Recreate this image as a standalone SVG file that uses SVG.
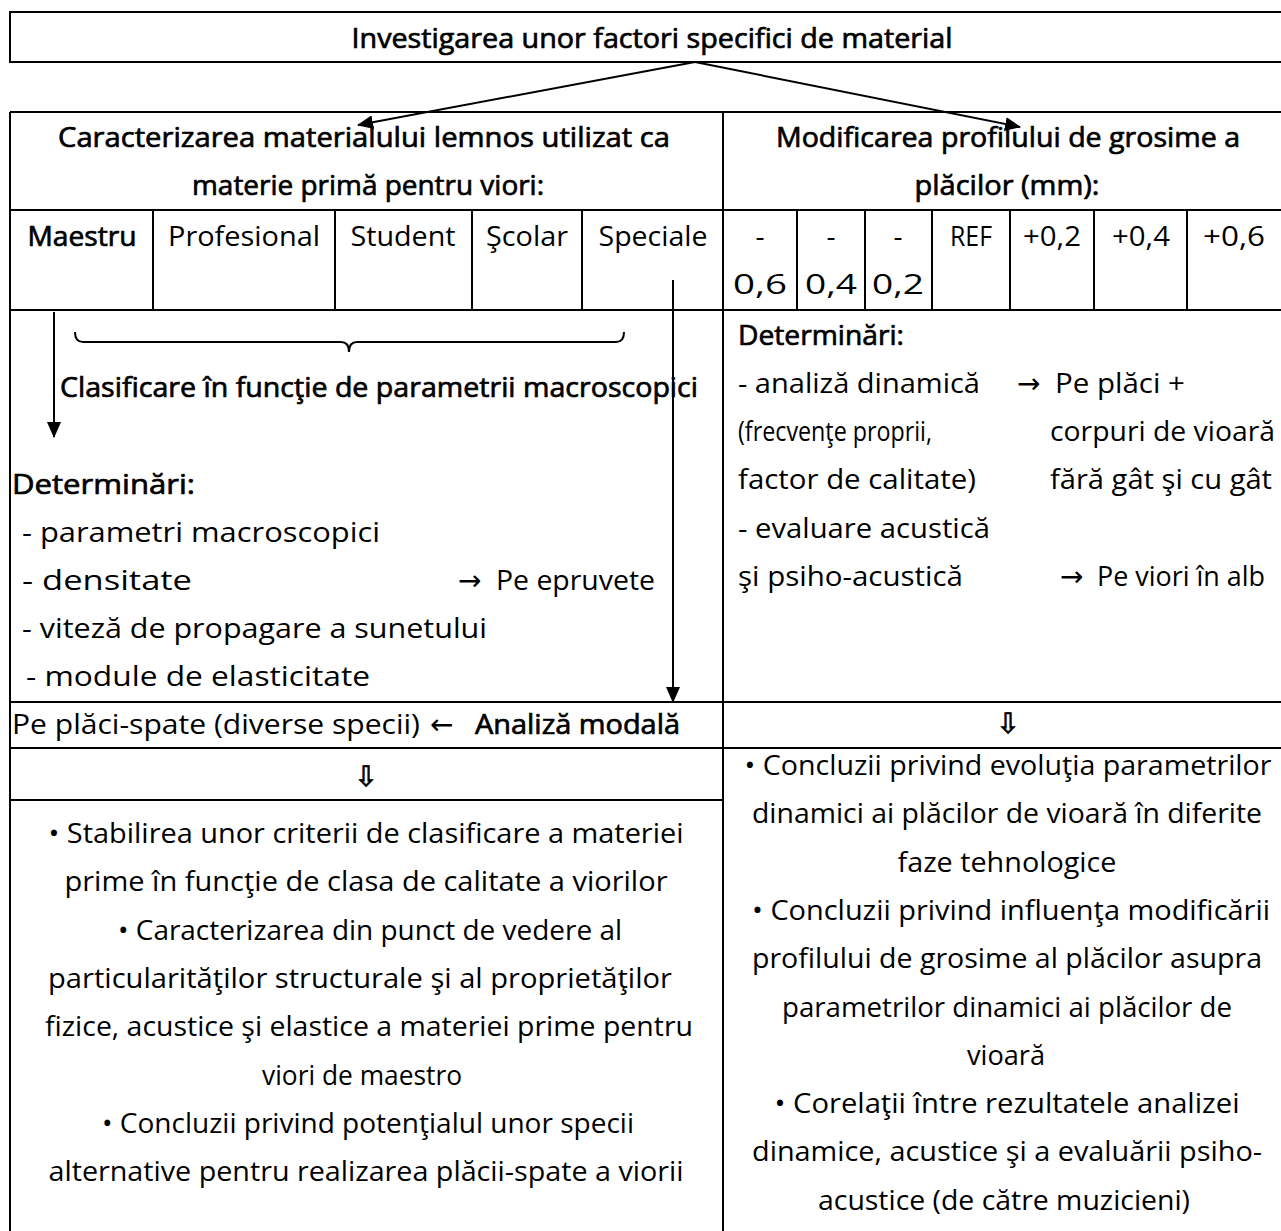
<svg xmlns="http://www.w3.org/2000/svg" width="1281" height="1231" viewBox="0 0 1281 1231">
<style>
text{font-family:"Open Sans","Noto Sans","Liberation Sans",sans-serif;font-size:28px;fill:#000}
.b{stroke:#000;stroke-width:0.7}
.m{text-anchor:middle}
.sym{font-family:"DejaVu Sans",sans-serif}
.dn{stroke:#000;stroke-width:0.8}
.ln{stroke:#000;stroke-width:2;fill:none}
.ar{stroke:#000;stroke-width:2;fill:none}
</style>
<defs>
<marker id="ah" markerUnits="userSpaceOnUse" markerWidth="16" markerHeight="14" refX="15" refY="7" orient="auto">
<path d="M0,0 L16,7 L0,14 z" fill="#000"/>
</marker>
</defs>
<rect width="1281" height="1231" fill="#fff"/>

<g id="title">
<rect class="ln" x="10" y="12" width="1290" height="50"/>
<text class="m b" x="652" y="48" textLength="601" lengthAdjust="spacingAndGlyphs">Investigarea unor factori specifici de material</text>
</g>

<g id="table-grid">
<path class="ln" d="M10,112 H1290 M10,210 H1290 M10,310 H1290 M10,702 H1290 M10,748 H1290 M10,800 H723 M10,112 V1240 M723,112 V1240"/>
<path class="ln" d="M153,210 V310 M335,210 V310 M472,210 V310 M582,210 V310 M797,210 V310 M865,210 V310 M932,210 V310 M1010,210 V310 M1094,210 V310 M1187,210 V310"/>
</g>

<g id="header-left">
<text class="m b" x="364" y="147" textLength="612" lengthAdjust="spacingAndGlyphs">Caracterizarea materialului lemnos utilizat ca</text>
<text class="m b" x="368" y="195" textLength="352" lengthAdjust="spacingAndGlyphs">materie primă pentru viori:</text>
</g>
<g id="header-right">
<text class="m b" x="1008" y="147" textLength="464" lengthAdjust="spacingAndGlyphs">Modificarea profilului de grosime a</text>
<text class="m b" x="1007" y="195" textLength="185" lengthAdjust="spacingAndGlyphs">plăcilor (mm):</text>
</g>

<g id="classes">
<text class="m b" x="82" y="246" textLength="109" lengthAdjust="spacingAndGlyphs">Maestru</text>
<text class="m" x="244" y="246" textLength="152" lengthAdjust="spacingAndGlyphs">Profesional</text>
<text class="m" x="403" y="246" textLength="105" lengthAdjust="spacingAndGlyphs">Student</text>
<text class="m" x="527" y="246" textLength="82" lengthAdjust="spacingAndGlyphs">Şcolar</text>
<text class="m" x="653" y="246" textLength="109" lengthAdjust="spacingAndGlyphs">Speciale</text>
</g>
<g id="thickness">
<text class="m" x="760" y="246">-</text>
<text class="m" x="760" y="294" textLength="54" lengthAdjust="spacingAndGlyphs">0,6</text>
<text class="m" x="831" y="246">-</text>
<text class="m" x="831" y="294" textLength="52" lengthAdjust="spacingAndGlyphs">0,4</text>
<text class="m" x="898" y="246">-</text>
<text class="m" x="898" y="294" textLength="52" lengthAdjust="spacingAndGlyphs">0,2</text>
<text class="m" x="971" y="246" textLength="42" lengthAdjust="spacingAndGlyphs">REF</text>
<text class="m" x="1052" y="246" textLength="58" lengthAdjust="spacingAndGlyphs">+0,2</text>
<text class="m" x="1141" y="246" textLength="58" lengthAdjust="spacingAndGlyphs">+0,4</text>
<text class="m" x="1234" y="246" textLength="62" lengthAdjust="spacingAndGlyphs">+0,6</text>
</g>

<g id="left-determinations">
<path class="ln" d="M75,332 q0,10 8,10 H341 q8,0 8,10 q0,-10 8,-10 H616 q8,0 8,-10" stroke-width="1.5"/>
<text class="b" x="60" y="397" textLength="638" lengthAdjust="spacingAndGlyphs">Clasificare în funcţie de parametrii macroscopici</text>
<text class="b" x="12" y="494" textLength="183" lengthAdjust="spacingAndGlyphs">Determinări:</text>
<text x="22" y="542" textLength="358" lengthAdjust="spacingAndGlyphs">- parametri macroscopici</text>
<text x="22" y="590" textLength="170" lengthAdjust="spacingAndGlyphs">- densitate</text>
<text class="sym" x="458" y="590" font-size="24">→</text>
<text x="496" y="590" textLength="159" lengthAdjust="spacingAndGlyphs">Pe epruvete</text>
<text x="22" y="638" textLength="465" lengthAdjust="spacingAndGlyphs">- viteză de propagare a sunetului</text>
<text x="26" y="686" textLength="344" lengthAdjust="spacingAndGlyphs">- module de elasticitate</text>
</g>

<g id="right-determinations">
<text class="b" x="738" y="345" textLength="166" lengthAdjust="spacingAndGlyphs">Determinări:</text>
<text x="738" y="393" textLength="242" lengthAdjust="spacingAndGlyphs">- analiză dinamică</text>
<text class="sym" x="1017" y="393" font-size="24">→</text>
<text x="1055" y="393" textLength="130" lengthAdjust="spacingAndGlyphs">Pe plăci +</text>
<text x="738" y="441" textLength="194" lengthAdjust="spacingAndGlyphs">(frecvenţe proprii,</text>
<text x="1050" y="441" textLength="225" lengthAdjust="spacingAndGlyphs">corpuri de vioară</text>
<text x="738" y="489" textLength="238" lengthAdjust="spacingAndGlyphs">factor de calitate)</text>
<text x="1050" y="489" textLength="222" lengthAdjust="spacingAndGlyphs">fără gât şi cu gât</text>
<text x="738" y="538" textLength="252" lengthAdjust="spacingAndGlyphs">- evaluare acustică</text>
<text x="738" y="586" textLength="225" lengthAdjust="spacingAndGlyphs">şi psiho-acustică</text>
<text class="sym" x="1060" y="586" font-size="24">→</text>
<text x="1097" y="586" textLength="168" lengthAdjust="spacingAndGlyphs">Pe viori în alb</text>
</g>

<g id="modal-analysis">
<text x="12" y="734" textLength="408" lengthAdjust="spacingAndGlyphs">Pe plăci-spate (diverse specii)</text>
<text class="sym" x="430" y="734" font-size="24">←</text>
<text class="b" x="475" y="734" textLength="205" lengthAdjust="spacingAndGlyphs">Analiză modală</text>
</g>
<g id="down-right"><text class="m sym dn" x="1008" y="733" font-size="34">⇩</text></g>
<g id="down-left"><text class="m sym dn" x="366" y="786" font-size="34">⇩</text></g>

<g id="conclusions-left">
<text class="m" x="366" y="843" textLength="635" lengthAdjust="spacingAndGlyphs">• Stabilirea unor criterii de clasificare a materiei</text>
<text class="m" x="366" y="891" textLength="603" lengthAdjust="spacingAndGlyphs">prime în funcţie de clasa de calitate a viorilor</text>
<text class="m" x="370" y="940" textLength="504" lengthAdjust="spacingAndGlyphs">• Caracterizarea din punct de vedere al</text>
<text class="m" x="360" y="988" textLength="624" lengthAdjust="spacingAndGlyphs">particularităţilor structurale şi al proprietăţilor</text>
<text class="m" x="369" y="1036" textLength="648" lengthAdjust="spacingAndGlyphs">fizice, acustice şi elastice a materiei prime pentru</text>
<text class="m" x="362" y="1085" textLength="200" lengthAdjust="spacingAndGlyphs">viori de maestro</text>
<text class="m" x="368" y="1133" textLength="532" lengthAdjust="spacingAndGlyphs">• Concluzii privind potenţialul unor specii</text>
<text class="m" x="366" y="1181" textLength="635" lengthAdjust="spacingAndGlyphs">alternative pentru realizarea plăcii-spate a viorii</text>
</g>

<g id="conclusions-right">
<text class="m" x="1008" y="775" textLength="527" lengthAdjust="spacingAndGlyphs">• Concluzii privind evoluţia parametrilor</text>
<text class="m" x="1007" y="823" textLength="510" lengthAdjust="spacingAndGlyphs">dinamici ai plăcilor de vioară în diferite</text>
<text class="m" x="1007" y="872" textLength="219" lengthAdjust="spacingAndGlyphs">faze tehnologice</text>
<text class="m" x="1011" y="920" textLength="518" lengthAdjust="spacingAndGlyphs">• Concluzii privind influenţa modificării</text>
<text class="m" x="1007" y="968" textLength="510" lengthAdjust="spacingAndGlyphs">profilului de grosime al plăcilor asupra</text>
<text class="m" x="1007" y="1017" textLength="450" lengthAdjust="spacingAndGlyphs">parametrilor dinamici ai plăcilor de</text>
<text class="m" x="1006" y="1065" textLength="78" lengthAdjust="spacingAndGlyphs">vioară</text>
<text class="m" x="1007" y="1113" textLength="465" lengthAdjust="spacingAndGlyphs">• Corelaţii între rezultatele analizei</text>
<text class="m" x="1007" y="1161" textLength="510" lengthAdjust="spacingAndGlyphs">dinamice, acustice şi a evaluării psiho-</text>
<text class="m" x="1004" y="1210" textLength="372" lengthAdjust="spacingAndGlyphs">acustice (de către muzicieni)</text>
</g>

<g id="connectors">
<line class="ar" x1="695" y1="62" x2="358" y2="125" marker-end="url(#ah)"/>
<line class="ar" x1="695" y1="62" x2="1020" y2="127" marker-end="url(#ah)"/>
<line class="ar" x1="54" y1="312" x2="54" y2="437" marker-end="url(#ah)"/>
<line class="ar" x1="673" y1="280" x2="673" y2="702" marker-end="url(#ah)"/>
</g>
</svg>
